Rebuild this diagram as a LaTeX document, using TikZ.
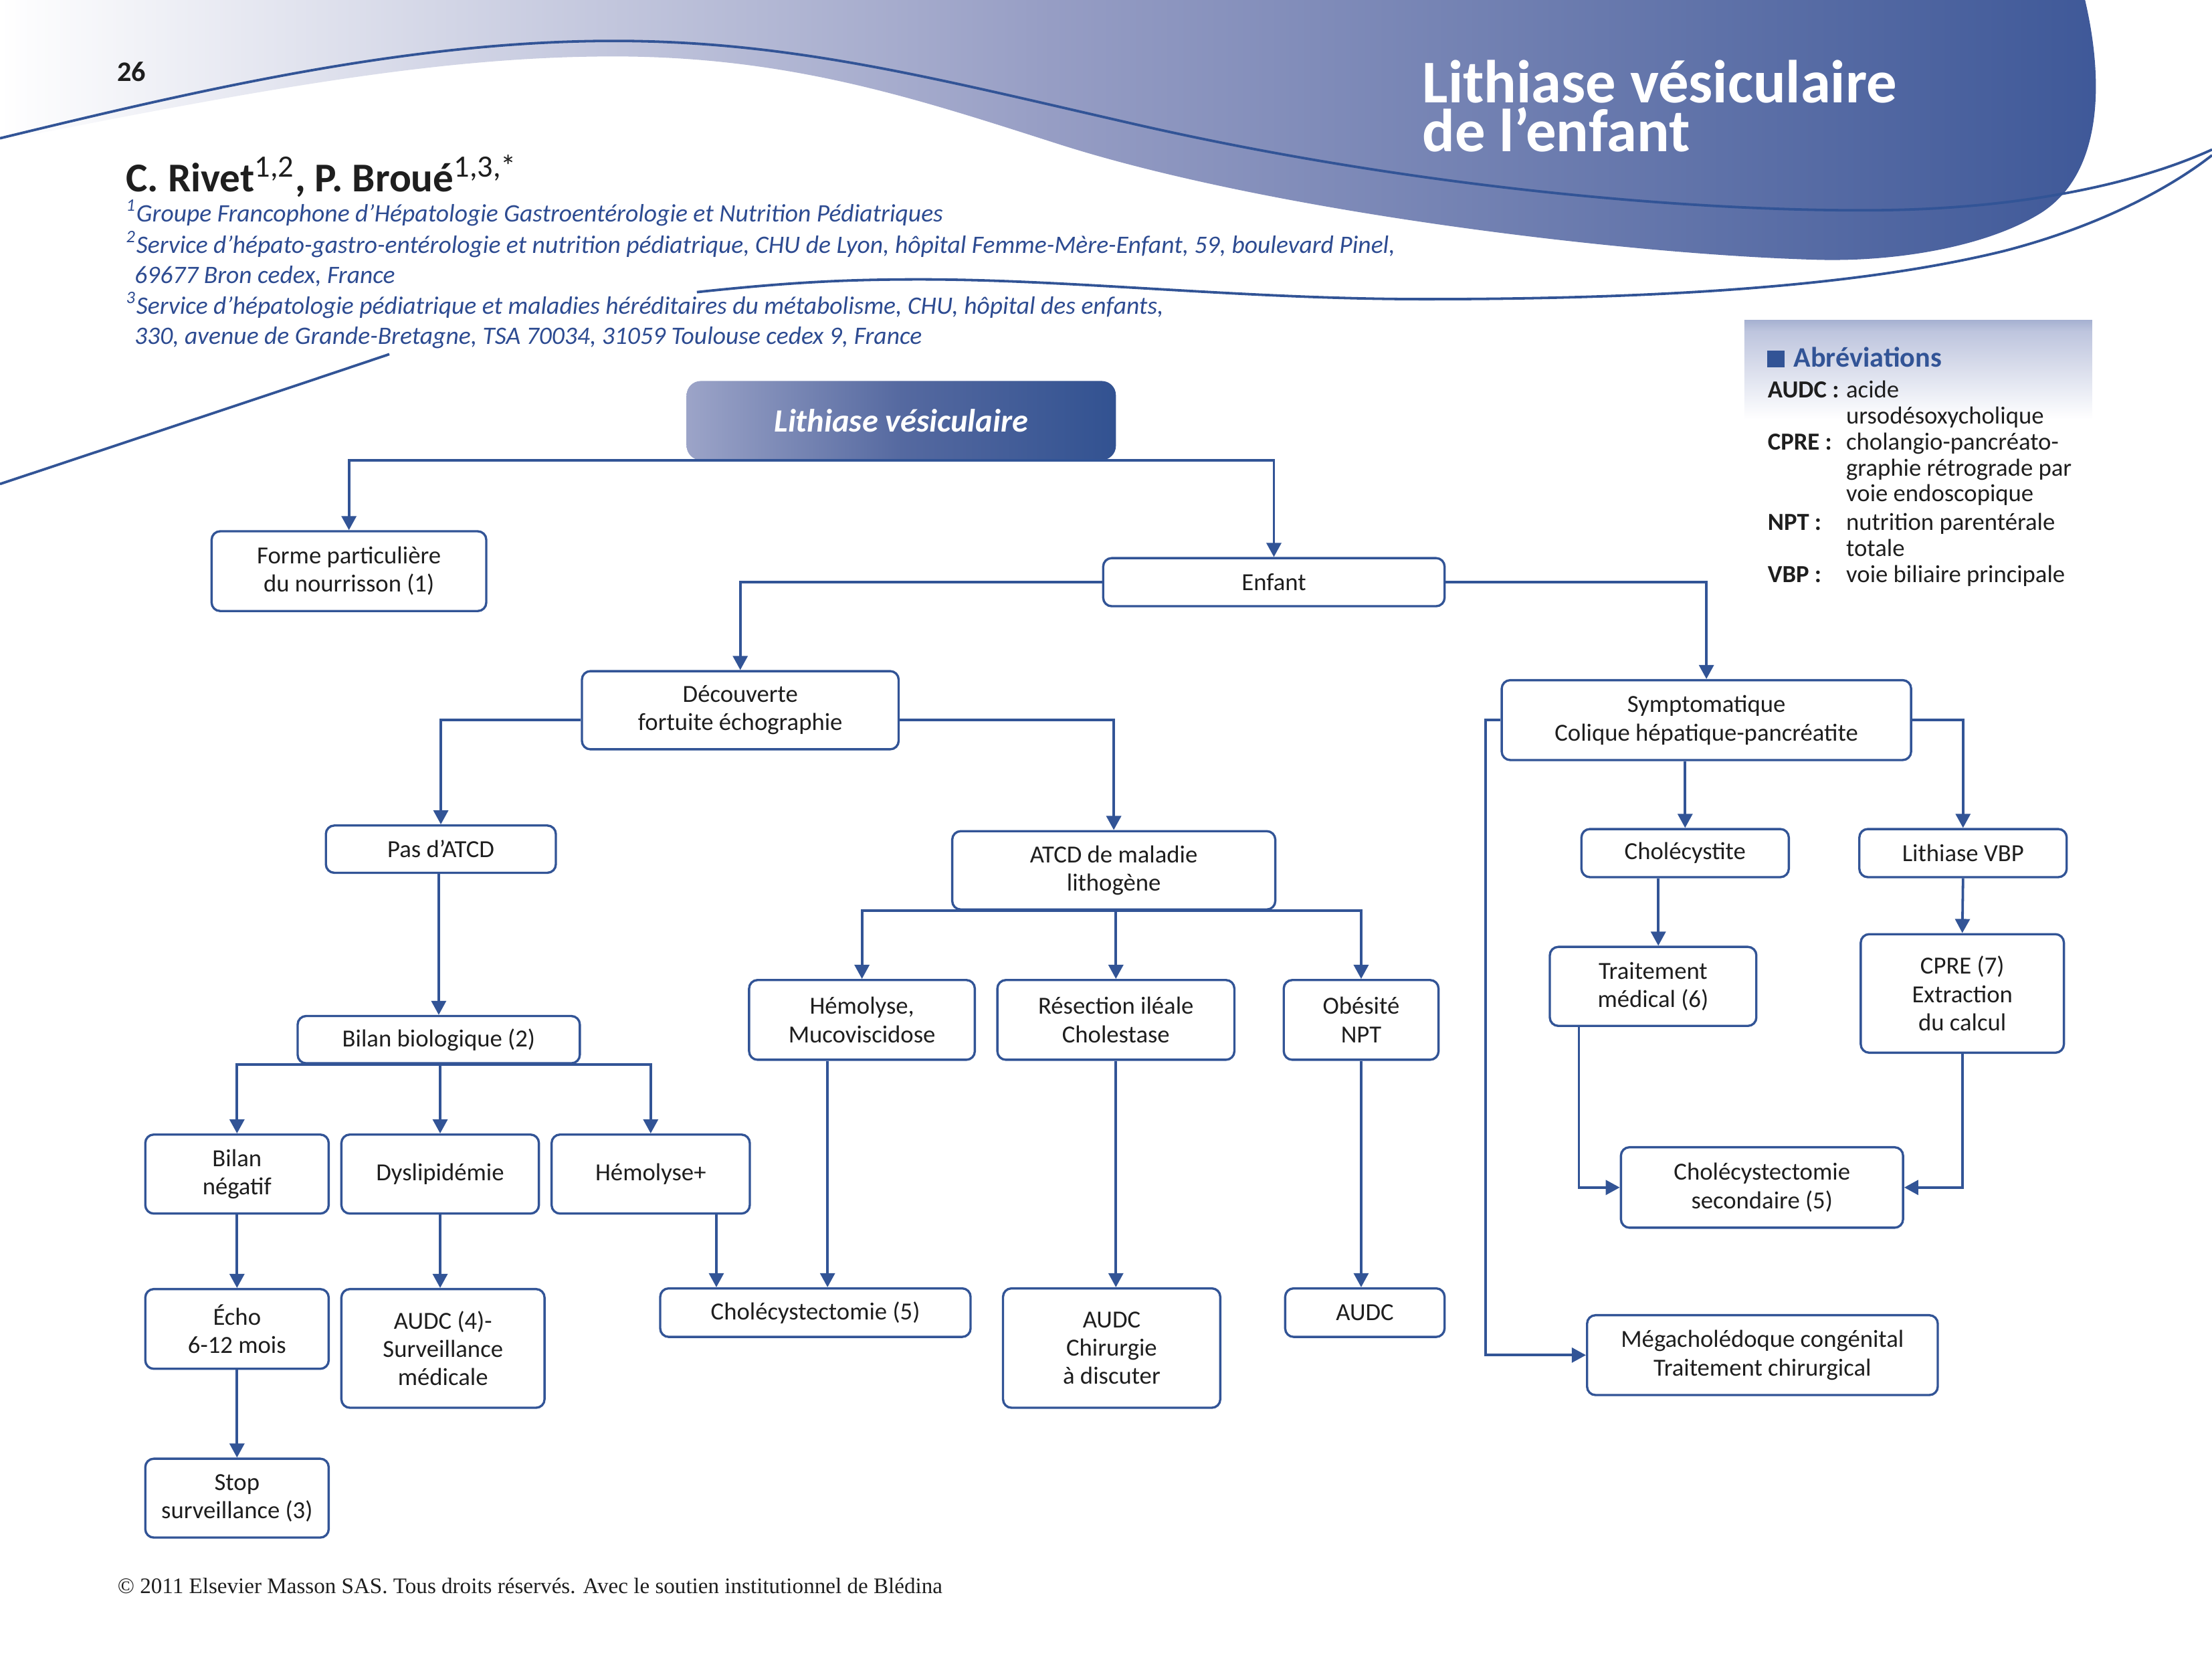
\documentclass[tikz,border=0pt]{standalone}
\usepackage{fontspec}
\setmainfont{Carlito}
\newfontfamily\footserif{Liberation Serif}
\usetikzlibrary{arrows.meta,calc}
\definecolor{lineblue}{RGB}{50,84,150}
\definecolor{textdark}{RGB}{30,30,30}
\definecolor{bannerdark}{RGB}{62,88,152}
\definecolor{bannermid}{RGB}{150,157,196}
\definecolor{boxlight}{RGB}{156,164,200}
\definecolor{boxdark}{RGB}{50,82,145}
\definecolor{boxmid}{RGB}{85,105,160}
\definecolor{affblue}{RGB}{45,75,145}
\definecolor{abbrdark}{RGB}{48,78,145}
\definecolor{abbrlight}{RGB}{190,197,222}
\pgfdeclareverticalshading{abbrshade}{100bp}{color(0bp)=(white); color(30bp)=(white); color(70bp)=(abbrlight); color(100bp)=(abbrdark)}
\newcommand\flowbox[5]{\node[box,minimum width={(#4-#2)*0.5pt},minimum height={(#5-#3)*0.5pt}] (#1) at ({(#2+#4)/2},{(#3+#5)/2})}
\newcommand\authsup[1]{\textsuperscript{\mdseries\fontsize{11pt}{12pt}\selectfont #1}}
\begin{document}
\begin{tikzpicture}[x=0.5pt,y=-0.5pt,
  box/.style={draw=lineblue, line width=0.8pt, rounded corners=3pt, fill=white, align=center, text=textdark, inner sep=0pt, font=\fontsize{8.7pt}{10pt}\selectfont},
  conn/.style={draw=lineblue, line width=0.9pt},
  arr/.style={conn, -{Triangle[length=5pt,width=5.2pt]}},
  deco/.style={draw=lineblue, line width=0.9pt},
  lbl/.style={anchor=base west, inner sep=0pt},
  affil/.style={lbl, text=affblue, font=\itshape\fontsize{8.9pt}{10pt}\selectfont},
  abbr/.style={lbl, text=textdark, font=\fontsize{8.7pt}{10pt}\selectfont},
  abbrb/.style={lbl, text=textdark, font=\bfseries\fontsize{8.7pt}{10pt}\selectfont},
]
\useasboundingbox (0,0) rectangle (1568,1176);
% ---------- header banner ----------
\shade[left color=white, right color=bannerdark, middle color=bannermid]
  (0,0) -- (1478,0) .. controls (1492,60) and (1490,125) .. (1445,152)
  .. controls (1405,176) and (1340,186) .. (1285,184)
  .. controls (1150,180) and (900,150) .. (750,102)
  .. controls (650,70) and (560,40) .. (435,40)
  .. controls (320,40) and (200,60) .. (0,100) -- cycle;
\draw[deco] (0,98) .. controls (140,64) and (290,29) .. (435,29)
  .. controls (560,29) and (660,55) .. (800,87)
  .. controls (1000,133) and (1200,150) .. (1330,149)
  .. controls (1440,148) and (1520,128) .. (1568,106);
\draw[deco] (494,207) .. controls (560,200) and (600,198) .. (652,198)
  .. controls (760,198) and (880,212) .. (1010,212)
  .. controls (1200,212) and (1330,200) .. (1420,178)
  .. controls (1490,160) and (1540,132) .. (1568,110);
\draw[deco] (0,343) .. controls (90,313) and (190,280) .. (276,251);
\node[lbl, text=textdark, font=\bfseries\fontsize{10pt}{12pt}\selectfont] (pagenum) at (82.7,57.7) {26};
\node[lbl, align=left, text=white, font=\bfseries\fontsize{21.5pt}{17.4pt}\selectfont] (title) at (1008,107.5) {Lithiase vésiculaire\\de l’enfant};
\node[lbl, text=textdark, font=\bfseries\fontsize{14.5pt}{16pt}\selectfont] (authors) at (89,136) {C. Rivet\authsup{1,2}, P. Broué\authsup{1,3,*}};
\node[affil] (aff1) at (89,157.3) {\textsuperscript{1}Groupe Francophone d’Hépatologie Gastroentérologie et Nutrition Pédiatriques};
\node[affil] (aff2) at (89,179.3) {\textsuperscript{2}Service d’hépato-gastro-entérologie et nutrition pédiatrique, CHU de Lyon, hôpital Femme-Mère-Enfant, 59, boulevard Pinel,};
\node[affil] (aff3) at (95,200.6) {69677 Bron cedex, France};
\node[affil] (aff4) at (89,222.8) {\textsuperscript{3}Service d’hépatologie pédiatrique et maladies héréditaires du métabolisme, CHU, hôpital des enfants,};
\node[affil] (aff5) at (95,244) {330, avenue de Grande-Bretagne, TSA 70034, 31059 Toulouse cedex 9, France};
% ---------- abbreviations ----------
\shade[shading=abbrshade] (1236.5,227) rectangle (1483,305);
\fill[lineblue] (1252.7,248.5) rectangle (1265,260.3);
\node[lbl, text=lineblue, font=\bfseries\fontsize{10pt}{12pt}\selectfont] (abbrtitle) at (1271,260.3) {Abréviations};
\node[abbrb] (ab1) at (1252.7,282) {AUDC :};
\node[abbr] (ab1a) at (1308.3,282) {acide};
\node[abbr] (ab1b) at (1308.3,300.6) {ursodésoxycholique};
\node[abbrb] (ab2) at (1252.7,319) {CPRE :};
\node[abbr] (ab2a) at (1308.3,319) {cholangio-pancréato-};
\node[abbr] (ab2b) at (1308.3,337.4) {graphie rétrograde par};
\node[abbr] (ab2c) at (1308.3,355.6) {voie endoscopique};
\node[abbrb] (ab3) at (1252.7,375.9) {NPT :};
\node[abbr] (ab3a) at (1308.3,375.9) {nutrition parentérale};
\node[abbr] (ab3b) at (1308.3,394.3) {totale};
\node[abbrb] (ab4) at (1252.7,412.8) {VBP :};
\node[abbr] (ab4a) at (1308.3,412.8) {voie biliaire principale};
% ---------- flowchart boxes ----------
\node[rounded corners=5pt, left color=boxlight, right color=boxdark, middle color=boxmid, inner sep=0pt,
  minimum width={(791-486.7)*0.5pt}, minimum height={(326-270)*0.5pt}, text=white,
  font=\bfseries\itshape\fontsize{11.5pt}{13pt}\selectfont] (top) at ({(486.7+791)/2},298) {Lithiase vésiculaire};
\flowbox{forme}{150}{376.5}{344.7}{433}{Forme particulière\\du nourrisson (1)};
\flowbox{enfant}{782}{395.5}{1024}{429.6}{Enfant};
\flowbox{decouv}{412.5}{475.6}{637}{531}{Découverte\\fortuite échographie};
\flowbox{sympto}{1064.5}{482}{1354.7}{538.6}{Symptomatique\\Colique hépatique-pancréatite};
\flowbox{pas}{231}{585}{394}{618.5}{Pas d’ATCD};
\flowbox{atcd}{675}{589}{904}{644.5}{ATCD de maladie\\lithogène};
\flowbox{cholite}{1121}{587.5}{1268}{621.6}{Cholécystite};
\flowbox{lvbp}{1318}{587.5}{1465}{621.6}{Lithiase VBP};
\flowbox{bilan}{211}{720}{411}{753.5}{Bilan biologique (2)};
\flowbox{hemmuc}{531}{694.5}{691}{751}{Hémolyse,\\Mucoviscidose};
\flowbox{resec}{707}{694.5}{875}{751}{Résection iléale\\Cholestase};
\flowbox{obes}{910}{694.5}{1019.7}{751}{Obésité\\NPT};
\flowbox{trait}{1098.6}{671}{1245}{727}{Traitement\\médical (6)};
\flowbox{cpre}{1319}{662}{1463}{746}{CPRE (7)\\Extraction\\du calcul};
\flowbox{neg}{103}{804}{233}{860}{Bilan\\négatif};
\flowbox{dys}{242}{804}{382}{860}{Dyslipidémie};
\flowbox{hemp}{391}{804}{531.5}{860}{Hémolyse+};
\flowbox{cholesec}{1149}{813}{1349}{870}{Cholécystectomie\\secondaire (5)};
\flowbox{echo}{103}{913.5}{233}{970}{Écho\\6-12 mois};
\flowbox{audcfour}{242}{913.5}{386}{997.6}{AUDC (4)-\\Surveillance\\médicale};
\flowbox{chole5}{468}{913}{688}{947.4}{Cholécystectomie (5)};
\flowbox{audcchir}{711}{913}{865}{997.6}{AUDC\\Chirurgie\\à discuter};
\flowbox{audc}{911}{913}{1024}{947.4}{AUDC};
\flowbox{mega}{1125}{932}{1373.6}{988.6}{Mégacholédoque congénital\\Traitement chirurgical};
\flowbox{stop}{103}{1033.7}{233}{1089.6}{Stop\\surveillance (3)};
% ---------- connectors ----------
\draw[arr] (top.south) -| (forme.north);
\draw[arr] (top.south) -| (enfant.north);
\draw[arr] (enfant.west) -| (decouv.north);
\draw[arr] (enfant.east) -| (sympto.north);
\draw[arr] (decouv.west |- sympto.west) -| (pas.north);
\draw[arr] (decouv.east |- sympto.west) -| (atcd.north);
\draw[arr] (bilan.north |- pas.south) -- (bilan.north);
\draw[arr] (bilan.south) -| (neg.north);
\draw[arr] (bilan.south -| dys.north) -- (dys.north);
\draw[arr] (bilan.south) -| (hemp.north);
\draw[arr] (neg.south) -- (echo.north);
\draw[arr] (echo.south) -- (stop.north);
\draw[arr] (dys.south) -- (dys.south |- audcfour.north);
\draw[arr] ([xshift=-12.25pt]hemp.south east) -- ([xshift=-12.25pt]hemp.south east |- chole5.north);
\draw[arr] ([xshift=-12.2pt]hemmuc.south) -- ([xshift=-12.2pt]hemmuc.south |- chole5.north);
\draw[arr] (atcd.south) -| (hemmuc.north);
\draw[arr] (atcd.south -| resec.north) -- (resec.north);
\draw[arr] (atcd.south) -| (obes.north);
\draw[arr] (resec.south) -- (resec.south |- audcchir.north);
\draw[arr] (obes.south) -- (obes.south |- audc.north);
\draw[arr] (sympto.south -| cholite.north) -- (cholite.north);
\draw[arr] (sympto.east) -| (lvbp.north);
\draw[arr] (sympto.west) -- ++(-5.25pt,0) |- (mega.west);
\draw[arr] ([xshift=1.85pt]trait.north |- cholite.south) -- ([xshift=1.85pt]trait.north);
\draw[arr] (lvbp.south) -- (cpre.north);
\draw[arr] ([xshift=10.7pt]trait.south west) |- (cholesec.west);
\draw[arr] (cpre.south) |- (cholesec.east);
% ---------- footer ----------
\node[lbl, text=textdark, font=\footserif\fontsize{7.85pt}{9pt}\selectfont] (footer) at (83,1129) {© 2011 Elsevier Masson SAS. Tous droits réservés. Avec le soutien institutionnel de Blédina};
\end{tikzpicture}
\end{document}
